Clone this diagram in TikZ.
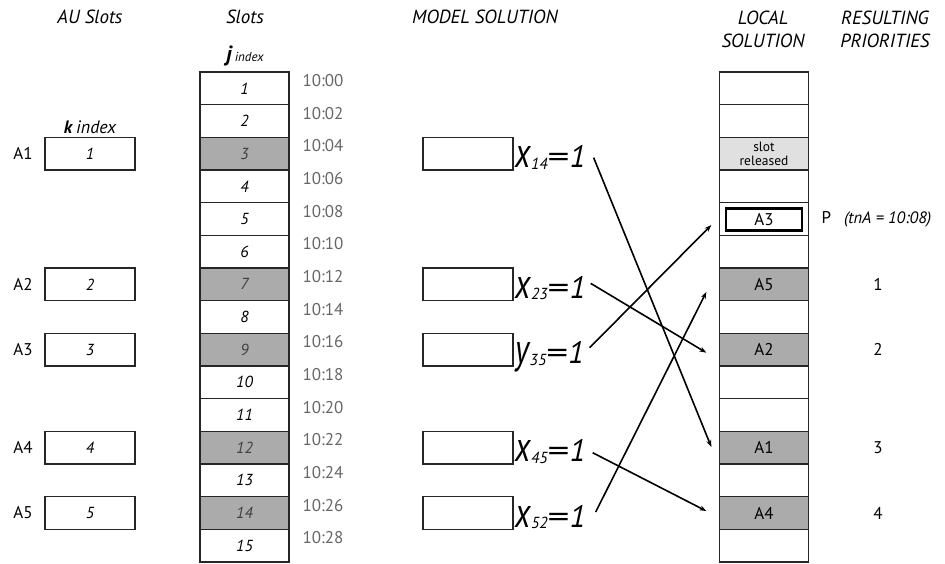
\documentclass[tikz,border=0pt]{standalone}
\usepackage{fontspec}
\usepackage{graphicx}
\setmainfont{PT Sans}
\usetikzlibrary{arrows.meta,calc}
\newcommand\fsz[2]{\fontsize{#1}{#2}\selectfont}
% assignment variable such as x_{14}=1
\newcommand\asgvar[2]{%
  \scalebox{1.05}[1.4]{\fsz{30}{30}\itshape #1}%
  \raisebox{-1.5pt}{\fsz{16}{16}\itshape #2}%
  \scalebox{1.4}[1]{\fsz{31}{31}=}%
  {\fsz{31}{31}\itshape 1}}
\definecolor{cellgrey}{HTML}{ABABAB}
\definecolor{relgrey}{HTML}{E0E0E0}
\definecolor{timegrey}{HTML}{666666}
\begin{document}
\begin{tikzpicture}[x=1pt,y=-1pt,
  cell/.style={draw=black!85,line width=1.3pt,minimum width=89pt,
    minimum height=32.67pt,inner sep=0pt},
  slotcell/.style={cell,font=\fsz{16}{18}\itshape},
  greycell/.style={fill=cellgrey,text=black!75},
  loccell/.style={cell,font=\fsz{17}{18}},
  aubox/.style={draw=black!85,line width=1.3pt,minimum width=90pt,
    minimum height=32.67pt,inner sep=0pt,font=\fsz{16}{18}\itshape},
  header/.style={font=\fsz{19}{23}\itshape,align=center},
  timelbl/.style={font=\fsz{17}{18},text=timegrey},
  rowlbl/.style={font=\fsz{17}{18}},
  prio/.style={font=\fsz{17}{18}},
  arr/.style={line width=1.6pt,-{Stealth[length=7pt,width=5pt]}}]

\useasboundingbox (0,0) rectangle (945,563);

% column headers
\node[header] (hau) at (90,17) {AU Slots};
\node[header] (hslots) at (245,17) {Slots};
\node[header] (hmodel) at (485,17) {MODEL SOLUTION};
\node[header] (hlocal) at (763,29) {LOCAL\\SOLUTION};
\node[header] (hprio) at (885,29) {RESULTING\\PRIORITIES};

% index captions
\node (jidx) at (245,56) {{\fsz{22}{22}\bfseries\itshape j}\hspace{3pt}{\fsz{13}{13}\itshape index}};
\node (kidx) at (90,127) {{\fsz{18}{18}\bfseries\itshape k}\hspace{4pt}{\fsz{18}{18}\itshape index}};

% slot column with start times
\foreach \i in {1,2,4,5,6,8,10,11,13,15}
  \node[slotcell] (s\i) at (244.5,{72+(\i-0.5)*32.67}) {\i};
\foreach \i in {3,7,9,12,14}
  \node[slotcell,greycell] (s\i) at (244.5,{72+(\i-0.5)*32.67}) {\i};
\foreach \i in {1,...,15}{
  \pgfmathtruncatemacro\mm{2*(\i-1)}
  \node[timelbl] (t\i) at (323,{80.5+(\i-1)*32.67}) {10:\ifnum\mm<10 0\fi\mm};
}

% AU slots and model solution boxes
\foreach \k/\r in {1/3,2/7,3/9,4/12,5/14}{
  \node[aubox] (a\k) at (90,{72+(\r-0.5)*32.67}) {\k};
  \node[rowlbl] (al\k) at (23,{72+(\r-0.5)*32.67}) {A\k};
  \node[aubox] (m\k) at (468,{72+(\r-0.5)*32.67}) {};
}

% assignment labels
\node[anchor=base west,inner sep=2pt] (v1) at ([yshift=-14pt]m1.east) {\asgvar{x}{14}};
\node[anchor=base west,inner sep=2pt] (v2) at ([yshift=-14pt]m2.east) {\asgvar{x}{23}};
\node[anchor=base west,inner sep=2pt] (v3) at ([yshift=-14pt]m3.east) {\asgvar{y}{35}};
\node[anchor=base west,inner sep=2pt] (v4) at ([yshift=-14pt]m4.east) {\asgvar{x}{45}};
\node[anchor=base west,inner sep=2pt] (v5) at ([yshift=-14pt]m5.east) {\asgvar{x}{52}};

% local solution column
\foreach \i in {1,2,4,5,6,8,10,11,13,15}
  \node[loccell] (l\i) at (764,{72+(\i-0.5)*32.67}) {};
\node[loccell,fill=relgrey,align=center,font=\fsz{13.5}{14}] (l3)
  at (764,{72+2.5*32.67}) {slot\\released};
\foreach \i/\t in {7/A5,9/A2,12/A1,14/A4}
  \node[loccell,fill=cellgrey] (l\i) at (764,{72+(\i-0.5)*32.67}) {\t};
\node[draw=black,line width=2.4pt,minimum width=76pt,minimum height=22pt,
  inner sep=0pt,font=\fsz{17}{18}] (pa3) at ([yshift=-0.5pt]l5.center) {A3};

% resulting priorities
\node[prio,anchor=west] (pp) at (818,219) {P\hspace{13pt}{\fsz{16.5}{17}\itshape(tnA = 10:08)}};
\node[prio] (p1) at (878,{72+6.5*32.67}) {1};
\node[prio] (p2) at (878,{72+8.5*32.67}) {2};
\node[prio] (p3) at (878,{72+11.5*32.67}) {3};
\node[prio] (p4) at (878,{72+13.5*32.67}) {4};

% arrows from the model solution to the local slots
\coordinate (e1) at ([xshift=80pt,yshift=-4pt]m1.east);
\coordinate (e2) at ([xshift=77pt,yshift=1pt]m2.east);
\coordinate (e3) at ([xshift=76pt,yshift=2pt]m3.east);
\coordinate (e4) at ([xshift=79pt,yshift=-5pt]m4.east);
\coordinate (e5) at ([xshift=82pt,yshift=1pt]m5.east);
\draw[arr] (e1) -- ([xshift=-7.5pt,yshift=0.7pt]l12.west);
\draw[arr] (e2) -- ([xshift=-12.5pt,yshift=-3pt]l9.west);
\draw[arr] (e3) -- ([xshift=-7.5pt,yshift=-6pt]l5.west);
\draw[arr] (e4) -- ([xshift=-12.5pt,yshift=2pt]l14.west);
\draw[arr] (e5) -- ([xshift=-12.5pt,yshift=-7.6pt]l7.west);
\end{tikzpicture}
\end{document}
